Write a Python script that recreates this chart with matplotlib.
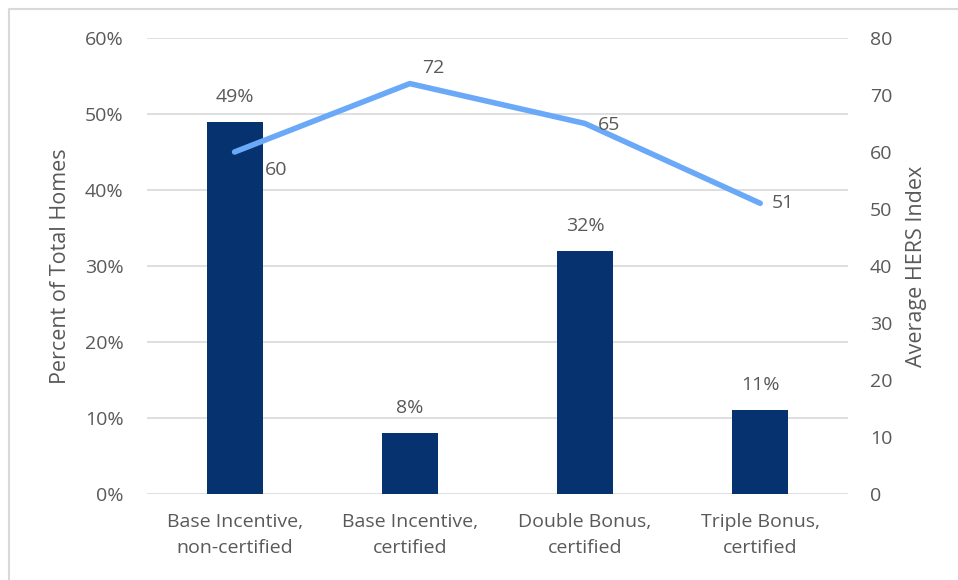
import matplotlib.pyplot as plt
from matplotlib.lines import Line2D
from matplotlib.ticker import PercentFormatter

categories = ["Base Incentive,\nnon-certified", "Base Incentive,\ncertified",
              "Double Bonus,\ncertified", "Triple Bonus,\ncertified"]
pct_homes = [49, 8, 32, 11]
hers_index = [60, 72, 65, 51]

bar_color = "#06336F"
line_color = "#6AA8F8"
text_color = "#595959"
grid_color = "#D9D9D9"

plt.rcParams["font.family"] = ["Open Sans", "DejaVu Sans"]

fig = plt.figure(figsize=(9.58, 5.8), dpi=100)
# frame edge along the top and left
fig.lines.append(Line2D([9 / 958, 9 / 958, 1], [0, 1 - 9 / 580, 1 - 9 / 580],
                        transform=fig.transFigure, color=grid_color, linewidth=1.5))

ax = fig.add_axes([0.1534, 0.1483, 0.7316, 0.7862])
x = range(len(categories))

ax.bar(x, pct_homes, width=0.32, color=bar_color, zorder=2)
for xi, v in zip(x, pct_homes):
    ax.annotate(f"{v}%", (xi, v), xytext=(0, 18), textcoords="offset points",
                ha="center", va="center", color=text_color, fontsize=14)

ax.set_xlim(-0.5, 3.5)
ax.set_ylim(0, 60)
ax.set_yticks(range(0, 61, 10))
ax.yaxis.set_major_formatter(PercentFormatter(decimals=0))
ax.set_xticks(list(x))
ax.set_xticklabels(categories, linespacing=1.55)
ax.grid(axis="y", color=grid_color, linewidth=1.2, zorder=0)
ax.set_ylabel("Percent of Total Homes", color=text_color, fontsize=15.5, labelpad=10)
ax.tick_params(length=0, colors=text_color, labelsize=14)
ax.tick_params(axis="y", pad=17)
ax.tick_params(axis="x", pad=14)
for s in ax.spines.values():
    s.set_visible(False)

ax2 = ax.twinx()
ax2.plot(x, hers_index, color=line_color, linewidth=4, solid_capstyle="round", zorder=3)
offsets = [(22, -13), (9, 11), (9, -1), (8, 0)]
for xi, v, off in zip(x, hers_index, offsets):
    ax2.annotate(str(v), (xi, v), xytext=off, textcoords="offset points",
                 ha="left", va="center", color=text_color, fontsize=14)
ax2.set_ylim(0, 80)
ax2.set_yticks(range(0, 81, 10))
ax2.set_ylabel("Average HERS Index", color=text_color, fontsize=15.5, labelpad=10)
ax2.tick_params(length=0, colors=text_color, labelsize=14, pad=16)
for s in ax2.spines.values():
    s.set_visible(False)

fig.savefig("out.png", dpi=100)
